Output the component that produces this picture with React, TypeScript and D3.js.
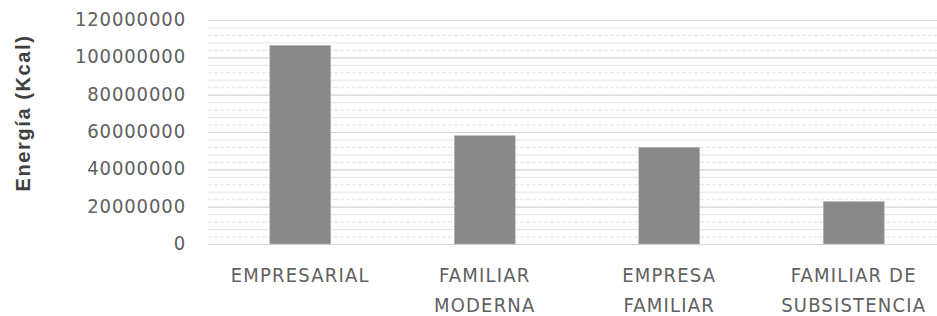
import React, { useEffect, useRef } from "react";
import * as d3 from "d3";

const categories = ["EMPRESARIAL", "FAMILIAR MODERNA", "EMPRESA FAMILIAR", "FAMILIAR DE SUBSISTENCIA"];
const labelLines = [["EMPRESARIAL"], ["FAMILIAR", "MODERNA"], ["EMPRESA", "FAMILIAR"], ["FAMILIAR DE", "SUBSISTENCIA"]];
const energy = [106400000, 58000000, 51800000, 22700000];
const yTicks = [0, 20000000, 40000000, 60000000, 80000000, 100000000, 120000000];
const yLabel = "Energía (Kcal)";

const narrow = "'DejaVu Sans Condensed', Arial, sans-serif";

const App = () => {
  const ref = useRef<SVGSVGElement | null>(null);

  useEffect(() => {
    const width = 937;
    const height = 316;
    const svg = d3.select(ref.current);
    svg.selectAll("*").remove();

    const left = 208;
    const right = 946;
    const top = 20;
    const bottom = 244;

    const x = d3.scaleBand().domain(categories).range([left, right]).paddingInner(0.67).paddingOuter(0.335);
    const y = d3.scaleLinear().domain([0, 120000000]).range([bottom, top]);

    // minor gridlines (scan-like dashed lines)
    const minor = d3.range(4000000, 120000000, 4000000).filter((v) => v % 20000000 !== 0);
    svg
      .append("g")
      .selectAll("line")
      .data(minor)
      .enter()
      .append("line")
      .attr("x1", left)
      .attr("x2", width)
      .attr("y1", (d) => y(d) + 0.5)
      .attr("y2", (d) => y(d) + 0.5)
      .attr("stroke", "#e3e3e3")
      .attr("stroke-width", 1)
      .attr("stroke-dasharray", (d, i) => (i % 2 === 0 ? "4,2" : "none"));

    // major gridlines
    svg
      .append("g")
      .selectAll("line")
      .data(yTicks)
      .enter()
      .append("line")
      .attr("x1", left)
      .attr("x2", width)
      .attr("y1", (d) => y(d) + 0.5)
      .attr("y2", (d) => y(d) + 0.5)
      .attr("stroke", "#d4d4d4")
      .attr("stroke-width", 1.2);

    // bars
    svg
      .append("g")
      .selectAll("rect")
      .data(energy)
      .enter()
      .append("rect")
      .attr("x", (d, i) => x(categories[i])!)
      .attr("y", (d) => y(d))
      .attr("width", x.bandwidth())
      .attr("height", (d) => bottom - y(d))
      .attr("fill", "#898989")
      .attr("stroke", "#b5b5b5")
      .attr("stroke-width", 0.6);

    // y tick labels
    svg
      .append("g")
      .selectAll("text")
      .data(yTicks)
      .enter()
      .append("text")
      .attr("x", 186)
      .attr("y", (d) => y(d) - 1)
      .attr("dy", "0.35em")
      .attr("text-anchor", "end")
      .attr("font-family", narrow)
      .attr("font-size", 20)
      .attr("letter-spacing", 0.9)
      .attr("fill", "#606060")
      .text((d) => d3.format("d")(d));

    // category labels
    const cat = svg
      .append("g")
      .selectAll("text")
      .data(labelLines)
      .enter()
      .append("text")
      .attr("x", (d, i) => x(categories[i])! + x.bandwidth() / 2)
      .attr("y", 275)
      .attr("text-anchor", "middle")
      .attr("font-family", narrow)
      .attr("font-size", 20)
      .attr("letter-spacing", 1.2)
      .attr("fill", "#606060");
    cat
      .selectAll("tspan")
      .data((d) => d)
      .enter()
      .append("tspan")
      .attr("x", function () {
        return d3.select((this as any).parentNode).attr("x");
      })
      .attr("dy", (d, i) => (i === 0 ? "0.35em" : "30px"))
      .text((d) => d);

    // y axis title
    svg
      .append("text")
      .attr("transform", `translate(23,113) rotate(-90)`)
      .attr("dy", "0.35em")
      .attr("text-anchor", "middle")
      .attr("font-family", "'Liberation Sans', Arial, sans-serif")
      .attr("font-weight", "bold")
      .attr("font-size", 20)
      .attr("letter-spacing", 1.6)
      .attr("fill", "#404040")
      .text(yLabel);

    svg.attr("width", width).attr("height", height);
  }, []);

  return (
    <svg
      ref={ref}
      width={937}
      height={316}
      style={{ position: "absolute", left: 0, top: 0, background: "#fff" }}
    />
  );
};

export default App;
